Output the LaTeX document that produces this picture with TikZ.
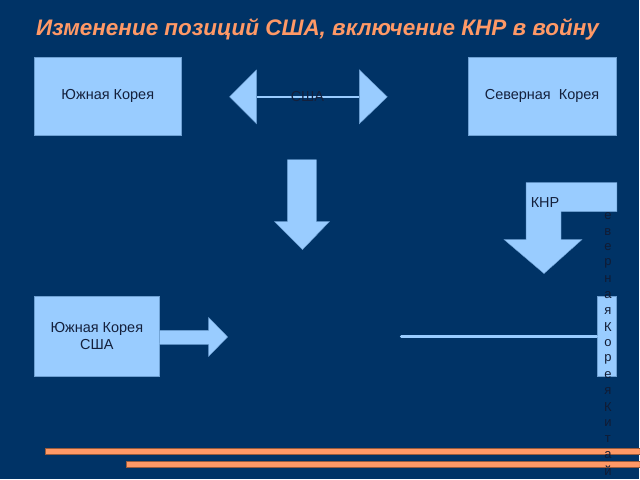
\documentclass[tikz,border=0pt]{standalone}
\usepackage{fontspec}
\setmainfont{Liberation Sans}
\definecolor{bgnavy}{RGB}{0,51,102}
\definecolor{boxblue}{RGB}{153,204,255}
\definecolor{boxedge}{RGB}{110,160,210}
\definecolor{salmon}{RGB}{255,153,102}
\definecolor{inktext}{RGB}{20,32,60}
\tikzset{
  panel/.style={draw=boxedge, fill=boxblue, line width=0.6pt, text=inktext, align=center, inner sep=0pt, font=\fontsize{14.5}{17}\selectfont},
  blockarrow/.style={fill=boxblue, draw=boxedge, line width=0.4pt},
  stripe/.style={fill=salmon, draw=salmon!60!black, line width=0.3pt},
  letter/.style={text=inktext!85!black, inner sep=0pt, font=\fontsize{13}{13}\selectfont},
}
\begin{document}
\begin{tikzpicture}[x=1pt, y=-1pt]
\fill [bgnavy] (0,0) rectangle (640,480);
\node (title) at (318,29) [text=salmon, font=\fontsize{22.5}{26}\selectfont\bfseries\itshape] {Изменение позиций США, включение КНР в войну};
% stripes at the bottom
\draw [stripe] (45,449) rectangle (641,455);
\draw [stripe] (126,462) rectangle (641,468);
% top row
\node (south) at (108,96.5) [panel, minimum width=148pt, minimum height=79pt] {Южная Корея};
\node (north) at (543,96.5) [panel, minimum width=148pt, minimum height=79pt] {Северная\ \ Корея};
\coordinate (lefttip) at (257,97);
\coordinate (righttip) at (360,97);
\draw [boxblue, line width=2pt] (lefttip) -- (righttip);
\draw [blockarrow] (230,97) -- (257,70) -- (257,124) -- cycle;
\draw [blockarrow] (388,97) -- (360,70) -- (360,124) -- cycle;
\node (usa) at (308,97) [text=inktext, font=\fontsize{14.5}{17}\selectfont] {США};
% down arrow
\draw [blockarrow] (288,160) -- (317,160) -- (317,222) -- (330,222) -- (303,250) -- (275,222) -- (288,222) -- cycle;
% bottom row
\node (southusa) at (97,337) [panel, minimum width=126pt, minimum height=80pt] {Южная Корея\\США};
\draw [blockarrow] (southusa.east) ++(0,-6) -- (209,331) -- (209,318) -- (228,337.5) -- (209,357) -- (209,345) -- (160,345);
\node (vbox) at (607.5,337) [panel, minimum width=19pt, minimum height=80pt] {};
\coordinate (linestart) at (402,337);
\draw [boxblue, line width=3pt, line cap=round] (linestart) -- (vbox.west);
\foreach \ch [count=\i from 0] in {С,е,в,е,р,н,а,я,К,о,р,е,я,К,и,т,а,й}
  \node (ltr\i) at (609,200+16*\i) [letter] {\ch};
% bent arrow
\draw [blockarrow] (527,183) -- (618,183) -- (618,212) -- (562,212) -- (562,240) -- (583,240) -- (545,274) -- (505,240) -- (527,240) -- cycle;
\node (knr) at (546,203) [text=inktext, font=\fontsize{14.5}{17}\selectfont] {КНР};
\end{tikzpicture}
\end{document}
